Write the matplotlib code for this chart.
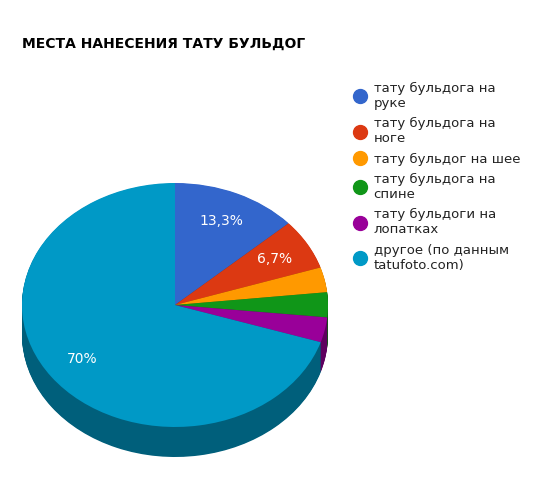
import numpy as np
import matplotlib.pyplot as plt
from matplotlib.lines import Line2D
import matplotlib.colors as mcolors

labels = ["тату бульдога на\nруке", "тату бульдога на\nноге", "тату бульдог на шее",
          "тату бульдога на\nспине", "тату бульдоги на\nлопатках", "другое (по данным\ntatufoto.com)"]
values = [13.3, 6.7, 3.3, 3.3, 3.3, 70]
pct_labels = ["13,3%", "6,7%", "", "", "", "70%"]
colors = ["#3366cc", "#dc3912", "#ff9900", "#109618", "#990099", "#0099c6"]

fig = plt.figure(figsize=(5.37, 4.8), dpi=100)
depth = 0.246
ax = fig.add_axes([22 / 537, 23 / 480, 306 / 537, 274 / 480])

dark = [tuple(c * 0.62 for c in mcolors.to_rgb(col)) for col in colors]
for d in np.linspace(depth, 0.005, 40):
    ax.pie(values, colors=dark, startangle=90, counterclock=False,
           center=(0, -d), radius=1, frame=True)

wedges, texts, autotexts = ax.pie(values, colors=colors, startangle=90, counterclock=False,
                                  autopct="%1.1f", pctdistance=0.75, frame=True)
for t, s in zip(autotexts, pct_labels):
    t.set_text(s)
    t.set_color("white")
    t.set_fontsize(10)
ax.set_aspect("auto")
ax.set_xlim(-1, 1)
ax.set_ylim(-1 - depth, 1)
ax.axis("off")

fig.text(22 / 537, 1 - 44 / 480, "МЕСТА НАНЕСЕНИЯ ТАТУ БУЛЬДОГ", fontsize=10,
         fontweight="bold", color="#000000", va="center")

handles = [Line2D([], [], marker="o", linestyle="", markersize=10, color=c) for c in colors]
fig.legend(handles, labels, loc="upper left", bbox_to_anchor=(342 / 537, 1 - 70 / 480),
           frameon=False, fontsize=9.5, labelcolor="#222222", handletextpad=0.5,
           labelspacing=0.55, handlelength=1.0)

fig.savefig("out.png", dpi=100)
